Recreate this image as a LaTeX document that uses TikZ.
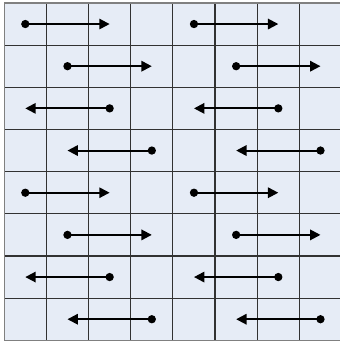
\documentclass[tikz,border=0pt]{standalone}
\usepackage{tikz}
\usetikzlibrary{arrows.meta, positioning}
\definecolor{cellblue}{RGB}{230,236,246}
\definecolor{gridline}{RGB}{50,50,50}
\tikzstyle{dot} = [circle, fill=black, inner sep=0pt, minimum size=5.6pt]
\tikzstyle{arrow} = [line width=1.3pt, -{Triangle[length=7pt, width=7pt]}, shorten <=-1pt]

\begin{document}
\begin{tikzpicture}[x=1cm, y=1cm]
    \useasboundingbox (-0.1,-0.04) rectangle (7.96,8.07);
    % Grid
    \fill[cellblue] (0,0) rectangle (8.2,8);
    \draw[gridline, line width=0.8pt] (0,0) grid (8.2,8);
    \draw[gray, line width=0.9pt] (8.2,0) -- (0,0) -- (0,8) -- (8.2,8);

    % Cell centres
    \foreach \r in {1,...,8}
        \foreach \c in {1,...,8}
            \coordinate (c\r\c) at (\c-0.5, 8.5-\r);

    % Arrows: row / start column / end column
    \foreach \r/\s/\e in {1/1/3, 2/2/4, 3/3/1, 4/4/2, 5/1/3, 6/2/4, 7/3/1, 8/4/2}
        \foreach \h in {0,4} {
            \pgfmathtruncatemacro{\sc}{\s+\h}
            \pgfmathtruncatemacro{\ec}{\e+\h}
            \node (d\r\sc) [dot] at (c\r\sc) {};
            \draw [arrow] (d\r\sc) -- (c\r\ec);
        }
\end{tikzpicture}
\end{document}
